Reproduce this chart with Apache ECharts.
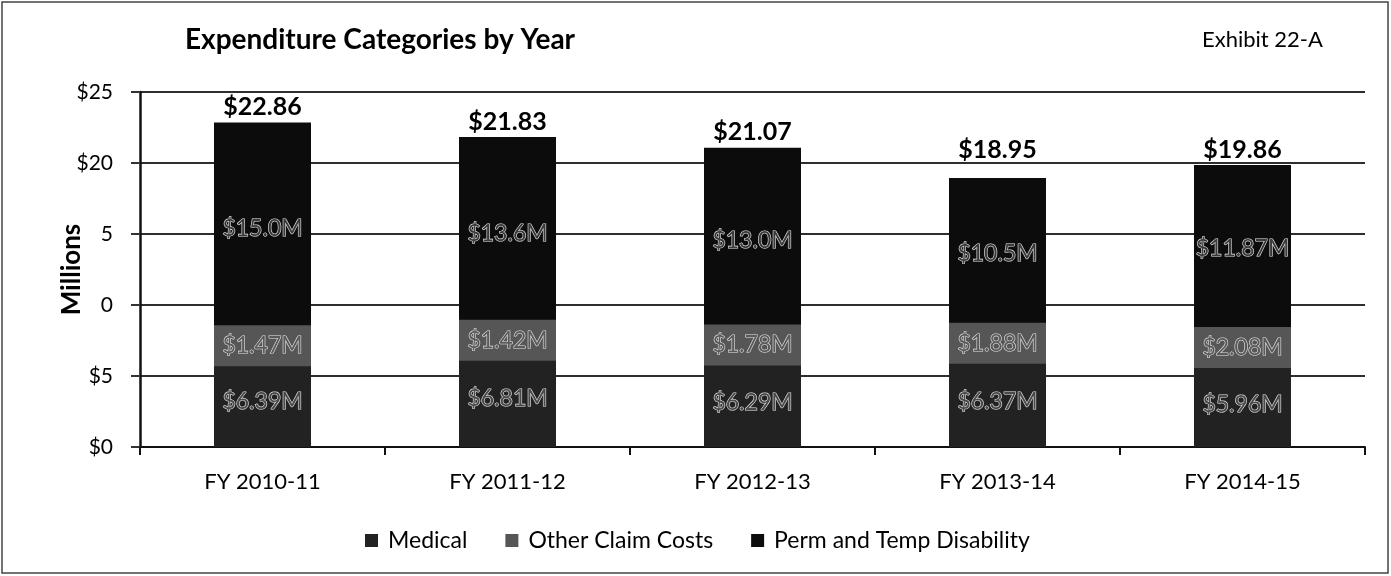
<!DOCTYPE html>
<html>
<head>
<meta charset="utf-8">
<script src="https://cdn.jsdelivr.net/npm/echarts@6/dist/echarts.min.js"></script>
<style>
  html, body { margin: 0; padding: 0; background: #fff; }
  #chart { width: 1391px; height: 576px; }
</style>
</head>
<body>
<div id="chart"></div>
<script>
const years = ['FY 2010-11', 'FY 2011-12', 'FY 2012-13', 'FY 2013-14', 'FY 2014-15']
// segment values, $ millions (bottom to top)
const medical = [6.39, 6.81, 6.29, 6.37, 5.96]
const otherClaim = [1.47, 1.42, 1.78, 1.88, 2.08]
const permTemp = [15.0, 13.6, 13.0, 10.7, 11.82]
const totals = [22.86, 21.83, 21.07, 18.95, 19.86]
// labels as printed on the segments
const medicalLabels = ['$6.39M', '$6.81M', '$6.29M', '$6.37M', '$5.96M']
const otherLabels = ['$1.47M', '$1.42M', '$1.78M', '$1.88M', '$2.08M']
const permLabels = ['$15.0M', '$13.6M', '$13.0M', '$10.5M', '$11.87M']
// y tick labels as they appear on the scanned exhibit
const yTickLabels = ['$0', '$5', '0', '5', '$20', '$25']

const FONT = 'Lato, "Open Sans", sans-serif'
const BAR_W = 97

const segLabel = (labels, extra = {}) => ({
  show: true,
  position: 'inside',
  color: '#4a4a4a',
  fontFamily: FONT,
  fontSize: 23,
  textBorderColor: '#e2e2e2',
  textBorderWidth: 1.2,
  formatter: (p) => labels[p.dataIndex],
  ...extra,
})

const chart = echarts.init(document.getElementById('chart'))

chart.setOption({
  animation: false,
  textStyle: { fontFamily: FONT },
  graphic: [
    {
      type: 'rect',
      shape: { x: 2, y: 2, width: 1386, height: 571 },
      style: { fill: 'none', stroke: '#444', lineWidth: 1.5 },
      silent: true,
    },
    {
      type: 'text',
      left: 185,
      top: 26,
      style: { text: 'Expenditure Categories by Year', fontFamily: FONT, fontSize: 28, fontWeight: 'bold', fill: '#000' },
    },
    {
      type: 'text',
      left: 1202,
      top: 29,
      style: { text: 'Exhibit 22-A', fontFamily: FONT, fontSize: 22, fill: '#000' },
    },
  ],
  legend: {
    top: 524,
    left: 360,
    itemWidth: 13,
    itemHeight: 13,
    itemGap: 38,
    icon: 'rect',
    textStyle: { fontFamily: FONT, fontSize: 23, color: '#000', padding: [0, 0, 0, 5] },
    data: ['Medical', 'Other Claim Costs', 'Perm and Temp Disability'],
  },
  grid: { left: 140, right: 26, top: 92, bottom: 129 },
  xAxis: {
    type: 'category',
    data: years,
    axisLine: { lineStyle: { color: '#111', width: 2 } },
    axisTick: { show: true, length: 8, lineStyle: { color: '#111', width: 2 } },
    axisLabel: { color: '#000', fontSize: 22, margin: 24, fontFamily: FONT },
  },
  yAxis: {
    type: 'value',
    min: 0,
    max: 25,
    interval: 5,
    name: 'Millions',
    nameLocation: 'middle',
    nameGap: 55,
    nameMoveOverlap: false,
    nameTextStyle: { fontSize: 26, fontWeight: 'bold', color: '#000', fontFamily: FONT },
    axisLine: { show: true, lineStyle: { color: '#111', width: 2.5 } },
    axisTick: { show: true, length: 9, lineStyle: { color: '#333', width: 2 } },
    axisLabel: {
      color: '#000',
      fontSize: 21,
      margin: 27,
      fontFamily: FONT,
      formatter: (v) => yTickLabels[Math.round(v / 5)],
    },
    splitLine: { lineStyle: { color: '#2e2e2e', width: 2 } },
  },
  series: [
    {
      name: 'Medical',
      type: 'bar',
      stack: 'total',
      barWidth: BAR_W,
      itemStyle: { color: '#222' },
      label: segLabel(medicalLabels),
      data: medical,
    },
    {
      name: 'Other Claim Costs',
      type: 'bar',
      stack: 'total',
      barWidth: BAR_W,
      itemStyle: { color: '#565656' },
      label: segLabel(otherLabels, {
        backgroundColor: '#565656',
        width: BAR_W,
        height: 41,
        lineHeight: 41,
        align: 'center',
        verticalAlign: 'middle',
        color: '#5a5a5a',
      }),
      data: otherClaim,
    },
    {
      name: 'Perm and Temp Disability',
      type: 'bar',
      stack: 'total',
      barWidth: BAR_W,
      itemStyle: { color: '#0c0c0c' },
      label: segLabel(permLabels, { color: '#3a3a3a' }),
      data: permTemp,
    },
    {
      name: 'Total',
      type: 'bar',
      stack: 'total',
      barWidth: BAR_W,
      itemStyle: { color: 'transparent' },
      label: {
        show: true,
        position: 'top',
        distance: 3,
        color: '#000',
        fontSize: 25,
        fontWeight: 'bold',
        fontFamily: FONT,
        formatter: (p) => '$' + totals[p.dataIndex].toFixed(2),
      },
      // the FY 2013-14 total label sits higher on the exhibit
      data: totals.map((t, i) => (i === 3 ? { value: 0, label: { offset: [0, -12] } } : 0)),
    },
  ],
})
</script>
</body>
</html>
